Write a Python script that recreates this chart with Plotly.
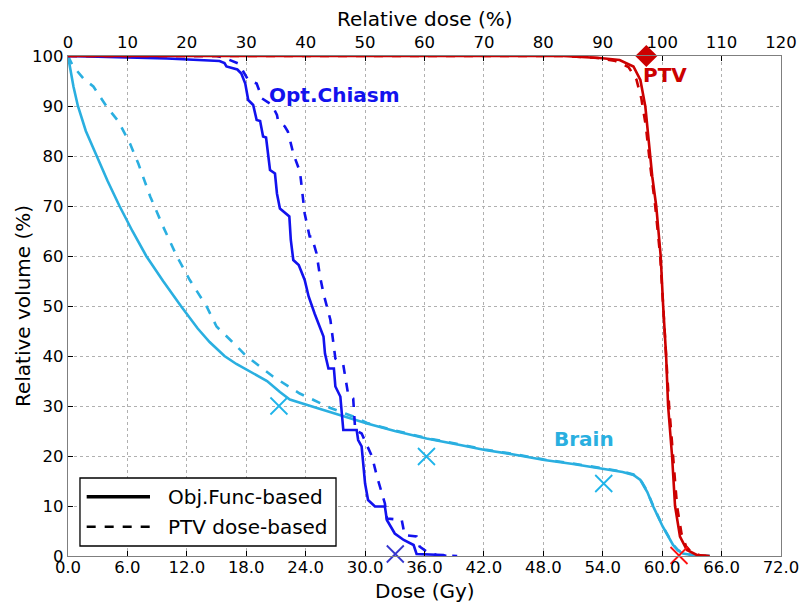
import plotly.graph_objects as go

# ---------------- data ----------------
brain_solid_x = [0, 0.3, 0.55, 1.0, 1.8, 2.9, 4.0, 5.2, 6.5, 7.9, 9.6, 11.4, 13.1, 14.3, 15.8, 17.0, 18.3, 20.1,
                 21.4, 22.4, 24.0, 26.0, 27.8, 30.2, 33.0, 36.2, 39.6, 42.1, 45.0, 48.1, 51.0, 54.1, 56.0, 57.1,
                 57.8, 58.5, 59.1, 60.05, 60.6, 61.1, 61.6, 62.1, 63.0, 64.8]
brain_solid_y = [100, 96.5, 93.9, 90.0, 85.0, 80.0, 75.0, 70.0, 65.0, 60.0, 55.0, 50.0, 45.5, 42.8, 40.0, 38.4,
                 37.0, 35.0, 32.8, 31.3, 30.3, 29.1, 27.9, 26.5, 25.0, 23.5, 22.2, 21.2, 20.3, 19.2, 18.4, 17.5,
                 16.8, 16.2, 15.2, 12.8, 9.9, 5.9, 3.8, 2.2, 1.1, 0.5, 0.2, 0]

brain_dash_x = [0, 0.5, 1.55, 2.56, 3.9, 5.1, 6.26, 7.1, 8.3, 9.6, 11.0, 12.3, 14.0, 15.0, 16.5, 18.0, 20.7,
                23.4, 24.8, 26.5, 28.8, 30.2, 33.0, 36.2, 39.6, 42.1, 45.0, 48.1, 51.0, 54.1, 56.0, 57.1,
                57.8, 58.5, 59.1, 60.05, 60.6, 61.1, 61.6, 62.1, 63.0, 64.8]
brain_dash_y = [100, 98.0, 95.5, 93.9, 89.9, 86.9, 82.5, 78.5, 71.9, 65.9, 59.9, 55.2, 49.9, 45.9, 43.0, 40.0,
                35.9, 32.5, 31.2, 29.6, 27.9, 26.6, 25.1, 23.6, 22.3, 21.3, 20.4, 19.3, 18.5, 17.6,
                16.9, 16.3, 15.3, 12.9, 10.0, 6.0, 3.9, 2.3, 1.2, 0.6, 0.2, 0]

chiasm_solid_x = [0, 5, 10, 15.3, 15.8, 16.0, 17.1, 17.5, 17.9, 18.2, 18.7, 19.05, 19.4, 19.7, 20.0, 20.4, 20.9,
                  21.1, 21.4, 22.35, 22.5, 22.75, 23.3, 23.9, 24.3, 24.9, 25.45, 25.8, 25.95, 26.3, 26.85, 27.0,
                  27.5, 27.8, 29.15, 29.3, 29.65, 30.0, 30.3, 31.0, 32.0, 32.2, 33.0, 33.9, 34.9, 35.2, 37.9, 38.2]
chiasm_solid_y = [100, 99.8, 99.5, 99.0, 98.6, 97.9, 97.3, 96.5, 94.5, 91.2, 90.2, 87.2, 87.0, 83.9, 83.7, 77.2,
                  76.5, 72.5, 69.5, 67.9, 63.2, 59.2, 58.2, 55.2, 51.9, 48.5, 45.9, 43.9, 40.5, 37.5, 37.5, 33.9,
                  31.9, 25.2, 25.2, 23.2, 21.9, 14.5, 11.2, 9.9, 9.9, 7.2, 4.5, 3.2, 2.2, 0.4, 0.2, 0]

chiasm_dash_x = [0, 15.0, 15.7, 17.2, 17.7, 18.2, 19.05, 19.6, 20.6, 21.1, 21.2, 21.9, 22.2, 22.75, 23.3, 23.4,
                 23.9, 24.4, 24.6, 25.1, 25.45, 25.8, 26.5, 26.8, 27.0, 27.8, 28.3, 28.8, 29.0, 29.65, 30.2, 30.7,
                 31.2, 31.7, 32.0, 32.2, 33.7, 34.0, 35.2, 35.5, 36.2, 37.2, 38.9, 39.3]
chiasm_dash_y = [100, 100, 99.7, 98.5, 96.9, 95.2, 94.5, 91.5, 90.2, 88.2, 87.2, 85.9, 84.9, 80.5, 77.5, 77.3,
                 68.5, 63.9, 63.9, 60.5, 55.9, 52.5, 47.2, 43.2, 39.5, 38.2, 32.2, 31.5, 25.2, 24.5, 21.9, 19.9,
                 15.9, 12.5, 10.5, 7.5, 7.2, 4.2, 3.9, 1.9, 0.9, 0.2, 0.1, 0]

ptv_solid_x = [0, 50.0, 53.7, 55.7, 57.1, 57.8, 58.3, 58.6, 59.0, 59.4, 59.85, 60.1, 60.4, 60.6, 61.0, 61.3,
               61.8, 62.5, 63.5, 64.8]
ptv_solid_y = [100, 100, 99.6, 99.2, 97.9, 95.2, 89.9, 83.2, 75.9, 70.0, 60.0, 50.0, 40.0, 30.0, 20.0, 10.0,
               3.9, 1.2, 0.2, 0]

ptv_dash_x = [0, 50.0, 53.5, 55.3, 56.6, 57.4, 57.9, 58.35, 58.8, 59.3, 59.8, 60.1, 60.4, 60.7, 61.1, 61.5,
              61.95, 62.4, 63.0, 63.9, 65.0]
ptv_dash_y = [100, 100, 99.6, 99.0, 97.8, 95.3, 91.5, 86.0, 78.0, 70.0, 60.0, 50.0, 40.0, 30.0, 20.0, 10.0,
              4.5, 2.0, 0.6, 0.1, 0]

brain_marks_x = [21.3, 36.2, 54.1]
brain_marks_y = [30.0, 19.9, 14.5]
chiasm_marks_x = [33.05]
chiasm_marks_y = [0.4]
ptv_marks_x = [61.7]
ptv_marks_y = [0.1]
ptv_ref_x = [58.4]
ptv_ref_y = [100]

dose_ticks = [0, 6, 12, 18, 24, 30, 36, 42, 48, 54, 60, 66, 72]
rel_ticks = [0, 10, 20, 30, 40, 50, 60, 70, 80, 90, 100, 110, 120]
vol_ticks = [0, 10, 20, 30, 40, 50, 60, 70, 80, 90, 100]

legend_labels = ["Obj.Func-based", "PTV dose-based"]

# ---------------- style ----------------
BRAIN = "#2AAFE0"
CHIASM = "#1212EE"
PTV = "#CC0000"
LW = 2.6
FONT = "DejaVu Sans"

fig = go.Figure()

def line(x, y, color, dash):
    fig.add_trace(go.Scatter(x=x, y=y, mode="lines", showlegend=False,
                             line=dict(color=color, width=LW, dash=dash), hoverinfo="skip"))

line(brain_dash_x, brain_dash_y, BRAIN, "dash")
line(brain_solid_x, brain_solid_y, BRAIN, "solid")
line(chiasm_dash_x, chiasm_dash_y, CHIASM, "dash")
line(chiasm_solid_x, chiasm_solid_y, CHIASM, "solid")
line(ptv_dash_x, ptv_dash_y, PTV, "dash")
line(ptv_solid_x, ptv_solid_y, PTV, "solid")

def marks(x, y, color):
    fig.add_trace(go.Scatter(x=x, y=y, mode="markers", showlegend=False, cliponaxis=False,
                             marker=dict(symbol="x-thin", size=17, line=dict(color=color, width=1.8))))

marks(brain_marks_x, brain_marks_y, "#1EB4EA")
marks(chiasm_marks_x, chiasm_marks_y, "#3636CF")
marks(ptv_marks_x, ptv_marks_y, "#FF1010")
fig.add_trace(go.Scatter(x=ptv_ref_x, y=ptv_ref_y, mode="markers", showlegend=False, cliponaxis=False,
                         marker=dict(symbol="diamond", size=17, color=PTV)))

# top axis helper trace
fig.add_trace(go.Scatter(x=[None], y=[None], xaxis="x2", showlegend=False))

fig.add_annotation(x=26.9, y=92.2, text="<b>Opt.Chiasm</b>", showarrow=False,
                   font=dict(family=FONT, size=20, color=CHIASM))
fig.add_annotation(x=60.3, y=96.2, text="<b>PTV</b>", showarrow=False,
                   font=dict(family=FONT, size=20, color=PTV))
fig.add_annotation(x=52.1, y=23.4, text="<b>Brain</b>", showarrow=False,
                   font=dict(family=FONT, size=20, color=BRAIN))

# axis titles
fig.add_annotation(xref="paper", yref="paper", x=0.5, y=-0.07, text="Dose (Gy)", showarrow=False,
                   xanchor="center", yanchor="middle", font=dict(family=FONT, size=20, color="black"))
fig.add_annotation(xref="paper", yref="paper", x=0.5, y=1.075, text="Relative dose (%)", showarrow=False,
                   xanchor="center", yanchor="middle", font=dict(family=FONT, size=20, color="black"))
fig.add_annotation(xref="paper", yref="paper", x=-0.0631, y=0.5, text="Relative volume (%)", showarrow=False,
                   textangle=-90, xanchor="center", yanchor="middle",
                   font=dict(family=FONT, size=20, color="black"))

# ---- legend (drawn as a framed box in paper coordinates) ----
fig.add_shape(type="rect", xref="paper", yref="paper", x0=0.0168, x1=0.3759, y0=0.020, y1=0.156,
              line=dict(color="black", width=1.3), fillcolor="white", layer="above")
legend_y = [0.1187, 0.0587]
legend_dash = ["solid", "dash"]
legend_w = [3.5, 2.5]
for lab, yy, dsh, w in zip(legend_labels, legend_y, legend_dash, legend_w):
    fig.add_shape(type="line", xref="paper", yref="paper", x0=0.0262, x1=0.1150, y0=yy, y1=yy,
                  line=dict(color="black", width=w, dash=dsh), layer="above")
    fig.add_annotation(xref="paper", yref="paper", x=0.1374, y=yy, xanchor="left", yanchor="middle",
                       text=lab, showarrow=False, font=dict(family=FONT, size=20, color="black"))

grid = dict(showgrid=True, gridcolor="#b0b0b0", griddash="dot", gridwidth=1)
axis_common = dict(showline=True, linecolor="#7f7f7f", linewidth=1.3, ticks="inside", ticklen=5,
                   tickcolor="black", tickfont=dict(family=FONT, size=16.5, color="black"), zeroline=False,
                   automargin=False)

fig.update_layout(
    width=804, height=603,
    margin=dict(l=68, r=23, t=56, b=47),
    paper_bgcolor="white", plot_bgcolor="white",
    font=dict(family=FONT, color="black"),
    xaxis=dict(range=[0, 72], tickvals=dose_ticks, ticktext=[f"{v:.1f}" for v in dose_ticks],
               ticklabelstandoff=-4, mirror=False, **grid, **axis_common),
    xaxis2=dict(range=[0, 120], tickvals=rel_ticks, ticktext=[str(v) for v in rel_ticks],
                overlaying="x", side="top", showgrid=False, **axis_common),
    yaxis=dict(range=[0, 100], tickvals=vol_ticks, ticktext=[str(v) for v in vol_ticks], mirror=True,
               **grid, **axis_common),
    showlegend=False,
)

fig.write_html("out.html")
